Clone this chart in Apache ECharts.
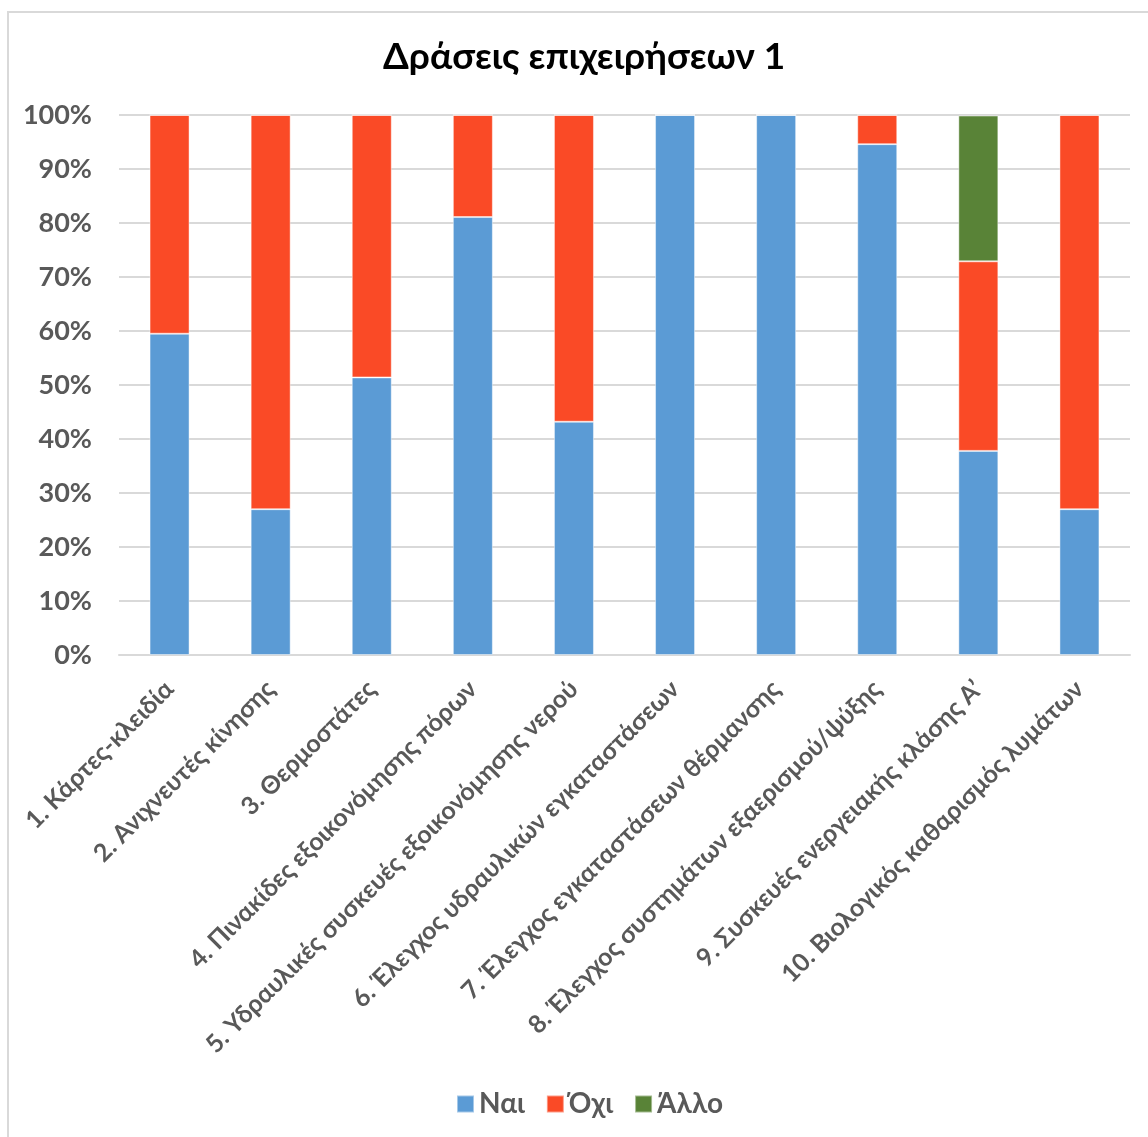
<!DOCTYPE html>
<html>
<head>
<meta charset="utf-8">
<script src="https://cdn.jsdelivr.net/npm/echarts@6/dist/echarts.min.js"></script>
<style>
  html, body { margin: 0; padding: 0; background: #fff; }
  #chart { width: 1148px; height: 1137px; }
</style>
</head>
<body>
<div id="chart"></div>
<script>
const titleText = 'Δράσεις επιχειρήσεων 1';
const categories = [
  '1. Κάρτες-κλειδία',
  '2. Ανιχνευτές κίνησης',
  '3. Θερμοστάτες',
  '4. Πινακίδες εξοικονόμησης πόρων',
  '5. Υδραυλικές συσκευές εξοικονόμησης νερού',
  '6. Έλεγχος υδραυλικών εγκαταστάσεων',
  '7. Έλεγχος εγκαταστάσεων θέρμανσης',
  '8. Έλεγχος συστημάτων εξαερισμού/ψύξης',
  '9. Συσκευές ενεργειακής κλάσης Α’',
  '10. Βιολογικός καθαρισμός λυμάτων'
];
const seriesNames = ['Ναι', 'Όχι', 'Άλλο'];
const naiValues  = [59.5, 27.0, 51.4, 81.1, 43.2, 100, 100, 94.6, 37.8, 27.0];
const oxiValues  = [40.5, 73.0, 48.6, 18.9, 56.8, 0, 0, 5.4, 35.1, 73.0];
const alloValues = [0, 0, 0, 0, 0, 0, 0, 0, 27.0, 0];
const yTicks = { min: 0, max: 100, interval: 10 };

const colors = ['#5B9BD5', '#FA4A26', '#598337'];
const FONT = 'Lato, "Open Sans", "Noto Sans", sans-serif';

const chart = echarts.init(document.getElementById('chart'));
const mkSeries = (name, data, color) => ({
  name: name,
  type: 'bar',
  stack: 'total',
  data: data,
  barWidth: 40,
  itemStyle: { color: color, borderColor: 'rgba(255,255,255,0.45)', borderWidth: 1 },
  emphasis: { disabled: true }
});

chart.setOption({
  animation: false,
  backgroundColor: '#fff',
  color: colors,
  graphic: [{
    type: 'rect',
    shape: { x: 8, y: 12, width: 1300, height: 1300 },
    style: { fill: 'none', stroke: '#d9d9d9', lineWidth: 2 },
    silent: true
  }],
  title: {
    text: titleText,
    left: 378,
    top: 34,
    textStyle: { fontFamily: FONT, fontWeight: 'bold', fontSize: 37, color: '#000' }
  },
  legend: {
    data: seriesNames,
    bottom: 14,
    left: 451,
    icon: 'rect',
    itemWidth: 17,
    itemHeight: 17,
    itemGap: 21,
    textStyle: { fontFamily: FONT, fontWeight: 'bold', fontSize: 28, color: '#595959' }
  },
  grid: { left: 119, right: 18, top: 115, bottom: 482, containLabel: false },
  xAxis: {
    type: 'category',
    data: categories,
    axisLine: { show: true, lineStyle: { color: '#d9d9d9', width: 2 } },
    axisTick: { show: false },
    axisLabel: {
      interval: 0,
      rotate: 45,
      margin: 30,
      fontFamily: FONT,
      fontWeight: 'bold',
      fontSize: 25,
      color: '#595959'
    }
  },
  yAxis: {
    type: 'value',
    min: yTicks.min,
    max: yTicks.max,
    interval: yTicks.interval,
    axisLine: { show: false },
    axisTick: { show: false },
    splitLine: { lineStyle: { color: '#d9d9d9', width: 2 } },
    axisLabel: {
      formatter: '{value}%',
      margin: 27,
      fontFamily: FONT,
      fontWeight: 'bold',
      fontSize: 27,
      color: '#595959'
    }
  },
  series: [
    mkSeries(seriesNames[0], naiValues, colors[0]),
    mkSeries(seriesNames[1], oxiValues, colors[1]),
    mkSeries(seriesNames[2], alloValues, colors[2])
  ]
});
</script>
</body>
</html>
